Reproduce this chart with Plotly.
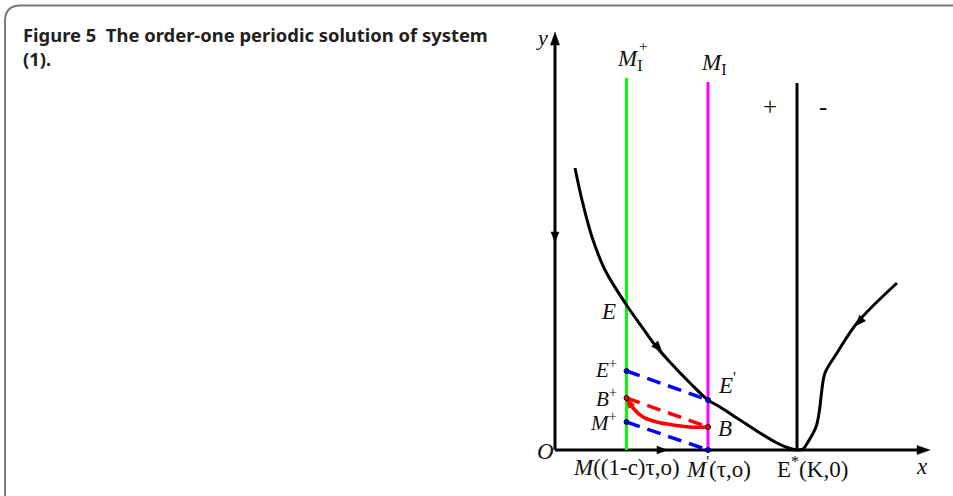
import plotly.graph_objects as go
import numpy as np

# ---------------- diagram values (model units) ----------------
x_green = 7.15      # (1-c)tau  -> impulsive set M_I^+
x_tau = 15.3        # tau       -> impulsive set M_I
x_K = 24.2          # K         -> E*
x_axis_end = 37.5
y_axis_end = 41.8
top_green = 37.2
top_magenta = 36.8
top_black = 36.7

curve_left_x = [2.0, 2.7, 3.7, 5.0, 7.15, 8.7, 10.0, 11.3, 13.5, 15.3, 16.5, 18.5, 20.5, 22.2, 23.5, 24.2]
curve_left_y = [28.2, 25.0, 21.3, 18.0, 14.5, 12.3, 10.5, 9.0, 6.7, 5.0, 4.3, 3.0, 1.7, 0.7, 0.15, 0.0]

curve_right_x = [24.2, 24.8, 25.3, 26.1, 26.45, 26.65, 27.0, 28.2, 30.2, 34.2]
curve_right_y = [0.0, 0.1, 0.8, 2.3, 4.0, 5.7, 7.7, 9.7, 12.7, 16.7]

red_curve_x = [7.15, 7.8, 8.8, 10.2, 11.8, 13.5, 15.3]
red_curve_y = [5.2, 4.2, 3.3, 2.8, 2.5, 2.3, 2.3]

# points on the two impulsive lines
y_Eplus, y_Bplus, y_Mplus = 7.9, 5.2, 2.8
y_Eprime, y_B, y_Mprime = 5.0, 2.3, 0.0

# arrowheads: tip x, tip y, direction x, direction y, length, half width
arrows = [
    (0.0, y_axis_end, 0.0, 1.0, 1.3, 0.45),
    (x_axis_end, 0.0, 1.0, 0.0, 1.3, 0.45),
    (0.0, 20.8, 0.0, -1.0, 1.0, 0.4),
    (11.2, 0.0, 1.0, 0.0, 1.0, 0.4),
    (10.7, 9.8, 1.3, -1.5, 1.1, 0.42),
    (30.0, 12.4, -1.0, -1.05, 1.1, 0.42),
]
red_arrow = (7.15, 5.2, -0.6, 1.0, 1.0, 0.35)

BLACK = "#000000"
GREEN = "#00ff00"
MAGENTA = "#ff00ff"
BLUE = "#0000ff"
RED = "#ff0000"

fig = go.Figure()

def line(x, y, color, width=3, dash=None, shape="linear"):
    fig.add_trace(go.Scatter(x=x, y=y, mode="lines",
                             line=dict(color=color, width=width, dash=dash, shape=shape),
                             hoverinfo="skip", showlegend=False))

def arrowhead(tx, ty, dx, dy, L, W, color):
    n = np.hypot(dx, dy)
    dx, dy = dx / n, dy / n
    bx, by = tx - L * dx, ty - L * dy
    px, py = -dy, dx
    fig.add_trace(go.Scatter(x=[tx, bx + W * px, bx - W * px, tx],
                             y=[ty, by + W * py, by - W * py, ty],
                             mode="lines", fill="toself", fillcolor=color,
                             line=dict(color=color, width=0.5),
                             hoverinfo="skip", showlegend=False))

# axes
line([0, x_axis_end - 1.0], [0, 0], BLACK, 3)
line([0, 0], [0, y_axis_end - 1.0], BLACK, 3)

# vertical lines
line([x_green, x_green], [0, top_green], GREEN, 3)
line([x_tau, x_tau], [0, top_magenta], MAGENTA, 3)
line([x_K, x_K], [0, top_black], BLACK, 3)

# trajectories
line(curve_left_x, curve_left_y, BLACK, 3, shape="spline")
line(curve_right_x, curve_right_y, BLACK, 3, shape="spline")

# dashed pulses
line([x_green, x_tau], [y_Eplus, y_Eprime], BLUE, 3.5, dash="14px,8px")
line([x_green, x_tau], [y_Mplus, y_Mprime], BLUE, 3.5, dash="14px,8px")
line([x_green, x_tau], [y_Bplus, y_B], RED, 3.5, dash="14px,8px")
line(red_curve_x, red_curve_y, RED, 3.5, shape="spline")

for a in arrows:
    arrowhead(*a, BLACK)
arrowhead(*red_arrow, RED)

# small points
fig.add_trace(go.Scatter(
    x=[x_green] * 3 + [x_tau] * 3,
    y=[y_Eplus, y_Bplus, y_Mplus, y_Eprime, y_B, y_Mprime],
    mode="markers",
    marker=dict(size=5, color=[BLUE, RED, BLUE, BLUE, RED, BLUE],
                line=dict(color="#000022", width=1)),
    hoverinfo="skip", showlegend=False))

SERIF = "Liberation Serif"
ann = []
def label(x, y, text, size=22, xanchor="center", yanchor="middle"):
    ann.append(dict(x=x, y=y, text=text, showarrow=False, xanchor=xanchor,
                    yanchor=yanchor, font=dict(family=SERIF, size=size, color="#111111")))

label(-1.3, 41.3, "<i>y</i>")
label(-1.0, -0.1, "<i>O</i>", size=23)
label(36.7, -1.6, "<i>x</i>", size=23)
label(7.45, 39.0, "<i>M</i><sub>I</sub>", size=23)
label(8.75, 40.4, "+", size=15)
label(15.9, 38.6, "<i>M</i><sub>I</sub>", size=23)
label(21.5, 34.4, "+", size=25)
label(26.8, 34.4, "-", size=25)
label(6.3, 13.9, "<i>E</i>", size=23, xanchor="right")
label(6.4, 8.2, "<i>E</i><sup>+</sup>", size=21, xanchor="right")
label(6.4, 5.3, "<i>B</i><sup>+</sup>", size=21, xanchor="right")
label(6.4, 2.85, "<i>M</i><sup>+</sup>", size=21, xanchor="right")
label(16.1, 6.7, "<i>E</i><sup>'</sup>", size=23, xanchor="left")
label(16.1, 2.2, "<i>B</i>", size=23, xanchor="left")
label(7.1, -1.7, "<i>M</i>((1-c)τ,o)", size=23)
label(16.3, -1.7, "<i>M</i><sup>'</sup>(τ,o)", size=23)
label(25.7, -1.7, "E<sup>*</sup>(K,0)", size=23)

ann.append(dict(x=-53.4, y=43.0, xanchor="left", yanchor="top", align="left", showarrow=False,
                text="<b>Figure 5&nbsp; The order-one periodic solution of system<br>(1).</b>",
                font=dict(family="Noto Sans", size=18.4, color="#231f20")))

fig.update_layout(
    width=953, height=496,
    margin=dict(l=0, r=0, t=0, b=0),
    paper_bgcolor="white", plot_bgcolor="white",
    xaxis=dict(range=[-55.5, 39.8], visible=False, fixedrange=True),
    yaxis=dict(range=[-4.6, 45.0], visible=False, fixedrange=True),
    annotations=ann,
    shapes=[dict(type="path",
                 path="M -55.0,-6 L -55.0,42.9 Q -55.0,44.45 -53.45,44.45 L 41,44.45",
                 line=dict(color="#7a7a7a", width=2))],
)

fig.write_html("out.html", config={"displayModeBar": False},
               post_script="document.body.style.margin='0';document.body.style.overflow='hidden';")
